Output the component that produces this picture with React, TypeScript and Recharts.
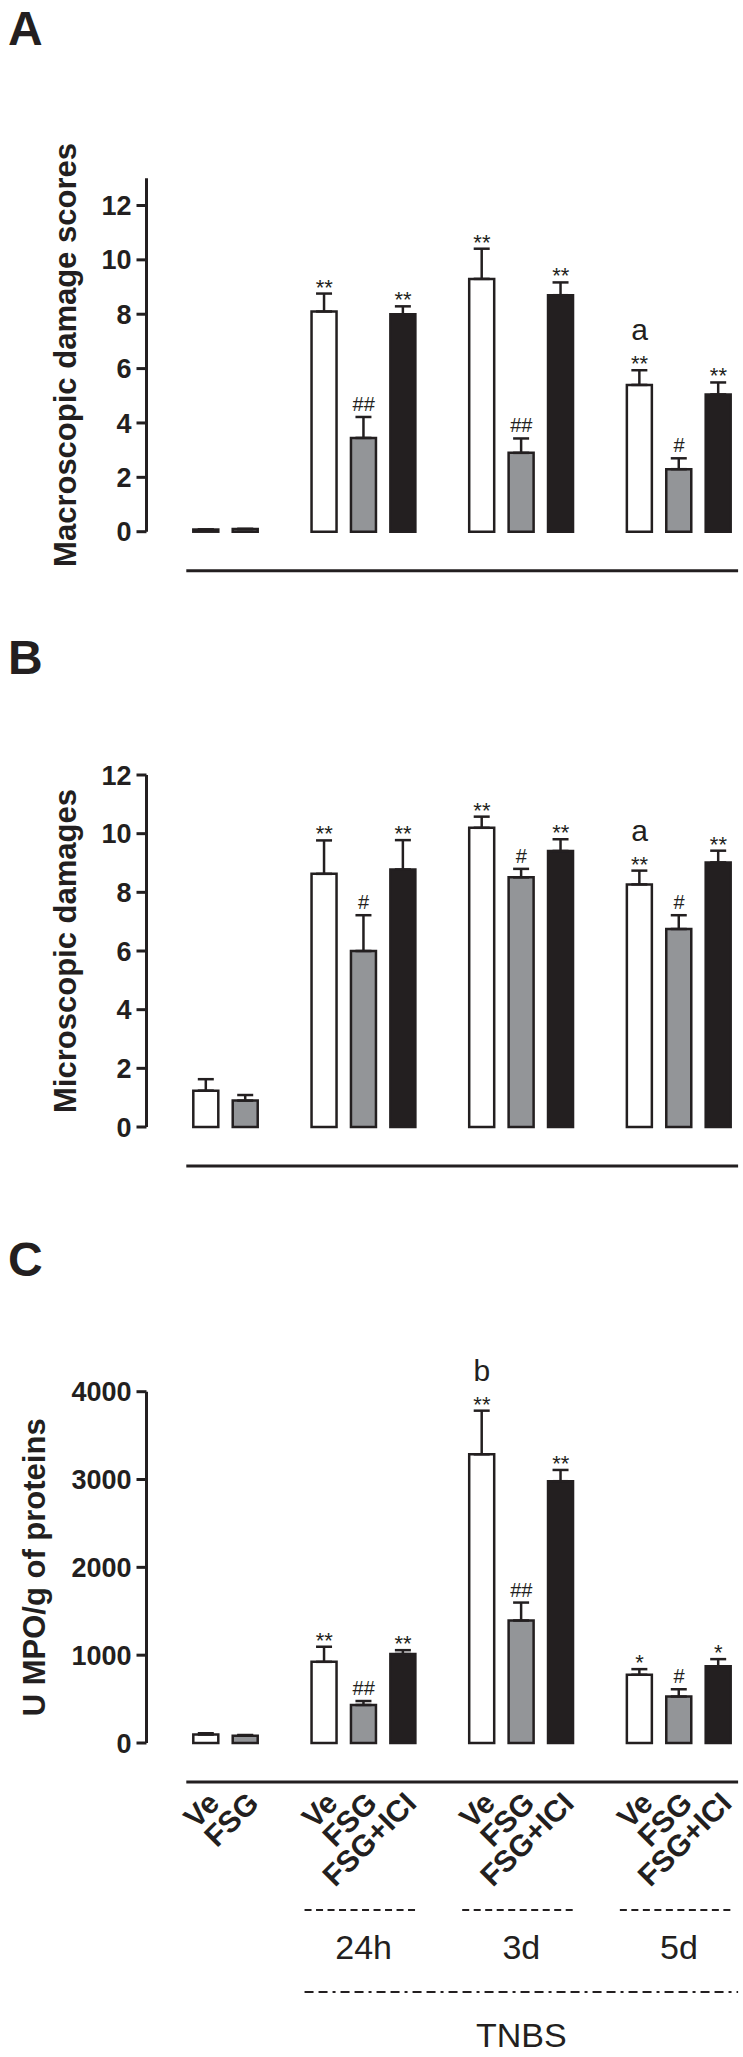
import React from "react";
import { ComposedChart, Bar, Line, XAxis, YAxis, ErrorBar, Cell, LabelList } from "recharts";

// x layout: 14 slots, empty slots separate the groups
const slotTreatment = ["Ve", "FSG", "", "Ve", "FSG", "FSG+ICI", "", "Ve", "FSG", "FSG+ICI", "", "Ve", "FSG", "FSG+ICI"];
const slotTime = ["", "", "", "24h", "24h", "24h", "", "3d", "3d", "3d", "", "5d", "5d", "5d"];
const timeLabels = ["24h", "3d", "5d"];
const inducerLabel = "TNBS";

// A - macroscopic damage scores
const macroMean = [0.08, 0.1, null, 8.1, 3.45, 8.0, null, 9.3, 2.9, 8.7, null, 5.4, 2.3, 5.05];
const macroSem = [0, 0, null, 0.66, 0.77, 0.29, null, 1.11, 0.53, 0.47, null, 0.54, 0.4, 0.44];
const macroMarks = ["", "", "", "**", "##", "**", "", "**", "##", "**", "", "**", "#", "**"];
const macroLetters = ["", "", "", "", "", "", "", "", "", "", "", "a", "", ""];
const macroTicks = [0, 2, 4, 6, 8, 10, 12];

// B - microscopic damages
const microMean = [1.24, 0.9, null, 8.63, 6.0, 8.78, null, 10.2, 8.51, 9.41, null, 8.27, 6.75, 9.02];
const microSem = [0.39, 0.19, null, 1.14, 1.22, 1.0, null, 0.38, 0.29, 0.4, null, 0.47, 0.47, 0.4];
const microMarks = ["", "", "", "**", "#", "**", "", "**", "#", "**", "", "**", "#", "**"];
const microLetters = ["", "", "", "", "", "", "", "", "", "", "", "a", "", ""];
const microTicks = [0, 2, 4, 6, 8, 10, 12];

// C - MPO activity
const mpoMean = [96, 83, null, 924, 433, 1013, null, 3287, 1395, 2981, null, 777, 529, 873];
const mpoSem = [15, 8, null, 172, 45, 44, null, 497, 204, 128, null, 64, 83, 82];
const mpoMarks = ["", "", "", "**", "##", "**", "", "**", "##", "**", "", "*", "#", "*"];
const mpoLetters = ["", "", "", "", "", "", "", "b", "", "", "", "", "", ""];
const mpoTicks = [0, 1000, 2000, 3000, 4000];

const INK = "#231f20";
const FILLS: Record<string, string> = { Ve: "#ffffff", FSG: "#939598", "FSG+ICI": INK };
const FONT = '"Liberation Sans", Arial, Helvetica, sans-serif';

const W = 743;
const AXIS_X = 146.5;
const PLOT_L = 186.3;
const PLOT_R = 738.1;
const SLOT = (PLOT_R - PLOT_L) / slotTreatment.length;
const RULE_GAP = 39;
const RULE_H = 10;

function buildRows(mean: (number | null)[], sem: (number | null)[], marks: string[], letters: string[]) {
  return slotTreatment.map((t, i) => {
    const m = mean[i];
    const s = sem[i] ?? 0;
    return {
      slot: "s" + i,
      treatment: t,
      mean: m,
      err: m == null ? null : [0, s],
      top: m == null ? null : m + s,
      mark: marks[i],
      letter: letters[i],
    };
  });
}

function pointOf(p: any) {
  const vb = p.viewBox || {};
  const x = p.x ?? vb.x;
  const y = p.y ?? vb.y;
  const w = p.width ?? vb.width ?? 0;
  return { x: x + w / 2, y };
}

function renderMark(p: any) {
  if (!p.value) return null;
  const { x, y } = pointOf(p);
  if (x == null || y == null || isNaN(y)) return null;
  const isStar = String(p.value).includes("*");
  return (
    <text x={x} y={isStar ? y + 1 : y - 6} textAnchor="middle" fontFamily={FONT} fontSize={isStar ? 22 : 20} fill={INK}>
      {p.value}
    </text>
  );
}

function renderLetter(p: any) {
  if (!p.value) return null;
  const { x, y } = pointOf(p);
  if (x == null || y == null || isNaN(y)) return null;
  return (
    <text x={x} y={y - 30} textAnchor="middle" fontFamily={FONT} fontSize={30} fill={INK}>
      {p.value}
    </text>
  );
}

function SlotTick(props: any) {
  const { x, y, index } = props;
  const label = slotTreatment[index];
  const time = slotTime[index];
  const members = slotTime.map((t, i) => (t === time ? i : -1)).filter((i) => i >= 0);
  const isGroupMid = time !== "" && members[Math.floor(members.length / 2)] === index;
  const induced = slotTime.map((t, i) => (timeLabels.includes(t) ? i : -1)).filter((i) => i >= 0);
  const first = induced[0];
  const last = induced[induced.length - 1];
  const isInducerMid = (first + last) / 2 === index;
  const ax = x + 15;
  const ay = y + 23;
  return (
    <g>
      {label && (
        <text
          x={ax}
          y={ay}
          transform={`rotate(-45 ${ax} ${ay})`}
          textAnchor="end"
          fontFamily={FONT}
          fontWeight={700}
          fontSize={30}
          fill={INK}
        >
          {label}
        </text>
      )}
      {isGroupMid && (
        <g>
          <line x1={x - 1.5 * SLOT} x2={x + 1.5 * SLOT - 5} y1={y + 128} y2={y + 128} stroke={INK} strokeWidth={2} strokeDasharray="7 4.5" />
          <text x={x} y={y + 177} textAnchor="middle" fontFamily={FONT} fontSize={34} fill={INK}>
            {time}
          </text>
        </g>
      )}
      {isInducerMid && (
        <g>
          <line
            x1={x - (index - first + 0.5) * SLOT}
            x2={x + (last - index + 0.5) * SLOT}
            y1={y + 210}
            y2={y + 210}
            stroke={INK}
            strokeWidth={2}
            strokeDasharray="9 5 9 5 3 5"
          />
          <text x={x} y={y + 265} textAnchor="middle" fontFamily={FONT} fontSize={34} fill={INK}>
            {inducerLabel}
          </text>
        </g>
      )}
    </g>
  );
}

type PanelProps = {
  letter: string;
  letterY: number;
  title: string;
  titleX: number;
  top: number;
  height: number;
  plotTop: number;
  plotBottom: number;
  domain: [number, number];
  ticks: number[];
  rows: any[];
  withLabels?: boolean;
};

function Panel(p: PanelProps) {
  const marginBottom = p.height - p.plotBottom - RULE_GAP - RULE_H;
  const titleLabel = (lp: any) => {
    const vb = lp.viewBox || {};
    const cy = vb.y + vb.height / 2;
    return (
      <g>
        <text x={p.titleX} y={cy} transform={`rotate(-90 ${p.titleX} ${cy})`} textAnchor="middle" fontFamily={FONT} fontWeight={700} fontSize={31} fill={INK}>
          {p.title}
        </text>
        <text x={8} y={p.letterY} fontFamily={FONT} fontWeight={700} fontSize={48} fill={INK}>
          {p.letter}
        </text>
      </g>
    );
  };
  return (
    <div style={{ position: "absolute", left: 0, top: p.top }}>
      <ComposedChart
        width={W}
        height={p.height}
        data={p.rows}
        margin={{ top: p.plotTop, right: W - PLOT_R, bottom: marginBottom, left: AXIS_X - 100 }}
      >
        <XAxis xAxisId="bars" dataKey="slot" scale="band" height={RULE_GAP} axisLine={false} tickLine={false} tick={false} />
        <XAxis
          xAxisId="rule"
          dataKey="slot"
          scale="band"
          height={RULE_H}
          interval={0}
          axisLine={{ stroke: INK, strokeWidth: 3 }}
          tickLine={false}
          tickSize={0}
          tickMargin={0}
          tick={p.withLabels ? <SlotTick /> : false}
        />
        <YAxis yAxisId="gap" width={PLOT_L - AXIS_X} domain={[0, 1]} axisLine={false} tickLine={false} tick={false} />
        <YAxis
          yAxisId="main"
          width={100}
          domain={p.domain}
          ticks={p.ticks}
          interval={0}
          axisLine={{ stroke: INK, strokeWidth: 3 }}
          tickLine={{ stroke: INK, strokeWidth: 3 }}
          tickSize={10}
          tickMargin={5}
          tick={{ fill: INK, fontSize: 27, fontWeight: 700, fontFamily: FONT }}
          label={titleLabel}
        />
        <Bar xAxisId="bars" yAxisId="main" dataKey="mean" barSize={25} stroke={INK} strokeWidth={2.5} isAnimationActive={false}>
          {p.rows.map((r, i) => (
            <Cell key={i} fill={FILLS[r.treatment] ?? "none"} />
          ))}
          <ErrorBar dataKey="err" direction="y" width={8} stroke={INK} strokeWidth={2.5} />
        </Bar>
        <Line xAxisId="bars" yAxisId="main" dataKey="top" stroke="none" dot={false} activeDot={false} isAnimationActive={false}>
          <LabelList dataKey="mark" content={renderMark} />
          <LabelList dataKey="letter" content={renderLetter} />
        </Line>
      </ComposedChart>
    </div>
  );
}

export default function App() {
  return (
    <div style={{ position: "absolute", left: 0, top: 0, width: W, height: 2057, overflow: "hidden", background: "#fff" }}>
      <Panel
        letter="A"
        letterY={45}
        title="Macroscopic damage scores"
        titleX={76}
        top={0}
        height={620}
        plotTop={178.3}
        plotBottom={531.7}
        domain={[0, 13]}
        ticks={macroTicks}
        rows={buildRows(macroMean, macroSem, macroMarks, macroLetters)}
      />
      <Panel
        letter="B"
        letterY={54}
        title="Microscopic damages"
        titleX={76}
        top={620}
        height={580}
        plotTop={155}
        plotBottom={507}
        domain={[0, 12]}
        ticks={microTicks}
        rows={buildRows(microMean, microSem, microMarks, microLetters)}
      />
      <Panel
        letter="C"
        letterY={76}
        title="U MPO/g of proteins"
        titleX={45}
        top={1200}
        height={857}
        plotTop={191.7}
        plotBottom={543}
        domain={[0, 4000]}
        ticks={mpoTicks}
        rows={buildRows(mpoMean, mpoSem, mpoMarks, mpoLetters)}
        withLabels
      />
    </div>
  );
}
